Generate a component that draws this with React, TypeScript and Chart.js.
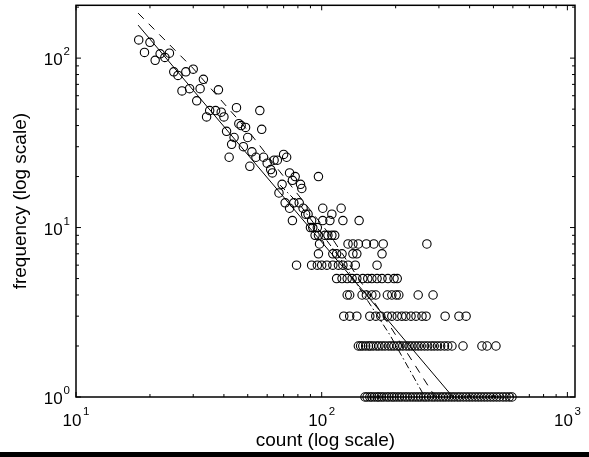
import React, { useEffect, useRef } from 'react';
import { Chart, registerables } from 'chart.js';

Chart.register(...registerables);

// ---- Data (count vs. frequency, log-log) ----
// Upper part of the distribution: one point per count value
const upperCounts = [18, 20, 19, 21, 22, 23, 24, 25, 26, 28, 30, 33, 27, 29, 32, 38, 31, 34, 35, 37, 39, 40, 45, 56, 46, 47, 49, 50, 57, 41, 44, 43, 48, 52, 54, 58, 42, 51, 60, 62, 63, 64, 66, 70, 72, 74, 78, 97, 69, 76, 82, 83, 67];
const upperFreqs = [128, 124, 108, 97, 106, 101, 107, 83, 79, 83, 86, 75, 64, 66, 66, 65, 56, 45, 49, 49, 48, 45, 51, 49, 41, 40, 39, 34, 38, 37, 34, 31, 30, 28, 26, 26, 26, 23, 24, 22, 21, 25, 25, 27, 26, 21, 20, 20, 18, 19, 18, 17, 16];

// Lower part: counts sharing the same (integer) frequency
const countsFreq14 = [71, 77, 81];
const countsFreq13 = [74, 84, 101, 120];
const countsFreq12 = [86, 88, 110];
const countsFreq11 = [76, 91, 101, 108, 122, 142];
const countsFreq10 = [90, 92, 96];
const countsFreq9 = [94, 97, 103, 106, 110, 113];
const countsFreq8 = [98, 128, 134, 141, 152, 163, 178, 268];
const countsFreq7 = [97, 111, 115, 121, 134, 139, 176];
const countsFreq6 = [79, 91, 96, 100, 105, 111, 117, 122, 128, 137, 168];
const countsFreq5 = [115, 121, 127, 133, 139, 147, 154, 160, 168, 176, 186, 197, 203];
const countsFreq4 = [127, 130, 146, 152, 160, 166, 185, 193, 201, 206, 247, 284];
const countsFreq3 = [123, 130, 139, 157, 166, 174, 185, 193, 203, 212, 220, 231, 242, 256, 266, 318, 362, 387];
const countsFreq2 = [141, 144, 147, 151, 155, 158, 162, 167, 171, 176, 181, 187, 192, 197, 203, 208, 214, 221, 227, 233, 240, 247, 254, 262, 270, 279, 287, 296, 305, 316, 326, 339, 376, 449, 471, 512];
const countsFreq1 = [150, 153, 157, 160, 164, 168, 171, 175, 179, 184, 188, 193, 197, 202, 207, 212, 218, 223, 229, 235, 241, 247, 253, 260, 266, 273, 281, 288, 296, 304, 312, 320, 329, 338, 347, 357, 366, 377, 388, 399, 410, 422, 434, 446, 459, 472, 486, 500, 515, 530, 547, 563, 580, 595];

const rowFreqs = [14, 13, 12, 11, 10, 9, 8, 7, 6, 5, 4, 3, 2, 1];
const rowCounts = [countsFreq14, countsFreq13, countsFreq12, countsFreq11, countsFreq10, countsFreq9, countsFreq8, countsFreq7, countsFreq6, countsFreq5, countsFreq4, countsFreq3, countsFreq2, countsFreq1];

// Fitted lines
const solidLineCounts = [17.9, 342];
const solidLineFreqs = [156.6, 1];
const dashedLineCounts = [17.9, 29.9, 51.1, 67.7, 108.1, 189.7, 290];
const dashedLineFreqs = [184.3, 87.3, 36.1, 21.3, 9.03, 2.62, 1];
const dashDotLineCounts = [67.7, 81.6, 118.7, 189.7, 263];
const dashDotLineFreqs = [17.8, 13.6, 6.61, 2.32, 1];

// Axes
const X_MIN = 10;
const X_MAX = 1074;
const Y_MIN = 1;
const Y_MAX = 205;
const xMajorTicks = [10, 100, 1000];
const xMajorExps = ['1', '2', '3'];
const xMinorTicks = [20, 30, 40, 50, 60, 70, 80, 90, 200, 300, 400, 500, 600, 700, 800, 900];
const yMajorTicks = [1, 10, 100];
const yMajorExps = ['0', '1', '2'];
const yMinorTicks = [2, 3, 4, 5, 6, 7, 8, 9, 20, 30, 40, 50, 60, 70, 80, 90, 200];
const xTitle = 'count (log scale)';
const yTitle = 'frequency (log scale)';

const FONT = '"Liberation Sans", Arial, Helvetica, sans-serif';

const axesPlugin = {
  id: 'matlabAxes',
  afterDraw(chart: any) {
    const { ctx, chartArea: a, scales } = chart;
    const xs = scales.x;
    const ys = scales.y;
    ctx.save();
    ctx.strokeStyle = '#000';
    ctx.fillStyle = '#000';
    ctx.lineWidth = 1;
    ctx.beginPath();
    const xt = (v: number, len: number) => {
      const p = xs.getPixelForValue(v);
      ctx.moveTo(p, a.bottom);
      ctx.lineTo(p, a.bottom - len);
      ctx.moveTo(p, a.top);
      ctx.lineTo(p, a.top + len);
    };
    const yt = (v: number, len: number) => {
      const p = ys.getPixelForValue(v);
      ctx.moveTo(a.left, p);
      ctx.lineTo(a.left + len, p);
      ctx.moveTo(a.right, p);
      ctx.lineTo(a.right - len, p);
    };
    xMajorTicks.forEach((v) => xt(v, 5));
    xMinorTicks.forEach((v) => xt(v, 3));
    yMajorTicks.forEach((v) => yt(v, 5));
    yMinorTicks.forEach((v) => yt(v, 3));
    ctx.stroke();

    ctx.lineWidth = 1.5;
    ctx.strokeRect(a.left, a.top, a.right - a.left, a.bottom - a.top);

    const baseFont = '17px ' + FONT;
    const supFont = '11.5px ' + FONT;
    ctx.textBaseline = 'alphabetic';
    ctx.textAlign = 'left';
    xMajorTicks.forEach((v, i) => {
      const p = xs.getPixelForValue(v);
      ctx.font = baseFont;
      const w1 = ctx.measureText('10').width;
      ctx.font = supFont;
      const w2 = ctx.measureText(xMajorExps[i]).width;
      const start = p - (w1 + 1.5 + w2) / 2;
      ctx.font = baseFont;
      ctx.fillText('10', start, a.bottom + 29);
      ctx.font = supFont;
      ctx.fillText(xMajorExps[i], start + w1 + 1.5, a.bottom + 17.5);
    });
    yMajorTicks.forEach((v, i) => {
      const p = ys.getPixelForValue(v);
      ctx.font = baseFont;
      const w1 = ctx.measureText('10').width;
      ctx.font = supFont;
      const w2 = ctx.measureText(yMajorExps[i]).width;
      const start = a.left - 6 - (w1 + 1 + w2);
      ctx.font = baseFont;
      ctx.fillText('10', start, p + 7);
      ctx.font = supFont;
      ctx.fillText(yMajorExps[i], start + w1 + 1, p - 3);
    });

    ctx.font = '19px ' + FONT;
    ctx.textAlign = 'center';
    ctx.fillText(xTitle, (a.left + a.right) / 2, 446);
    ctx.translate(26, (a.top + a.bottom) / 2);
    ctx.rotate(-Math.PI / 2);
    ctx.fillText(yTitle, 0, 0);
    ctx.restore();
  },
};

export default function App() {
  const canvasRef = useRef<HTMLCanvasElement | null>(null);

  useEffect(() => {
    if (!canvasRef.current) return;
    const points: { x: number; y: number }[] = [];
    upperCounts.forEach((c, i) => points.push({ x: c, y: upperFreqs[i] }));
    rowCounts.forEach((arr, r) => arr.forEach((c) => points.push({ x: c, y: rowFreqs[r] })));
    const toXY = (xs: number[], ys: number[]) => xs.map((x, i) => ({ x, y: ys[i] }));

    const chart = new Chart(canvasRef.current, {
      type: 'scatter',
      data: {
        datasets: [
          {
            label: 'data',
            data: points,
            showLine: false,
            pointStyle: 'circle',
            pointRadius: 4.2,
            pointBorderWidth: 1.1,
            borderColor: '#000',
            backgroundColor: 'rgba(0,0,0,0)',
            pointBackgroundColor: 'rgba(0,0,0,0)',
            pointBorderColor: '#000',
            clip: false,
          } as any,
          {
            label: 'fit',
            data: toXY(solidLineCounts, solidLineFreqs),
            showLine: true,
            pointRadius: 0,
            borderColor: '#000',
            borderWidth: 1,
          } as any,
          {
            label: 'fit2',
            data: toXY(dashedLineCounts, dashedLineFreqs),
            showLine: true,
            pointRadius: 0,
            borderColor: '#000',
            borderWidth: 1,
            borderDash: [8, 7],
          } as any,
          {
            label: 'fit3',
            data: toXY(dashDotLineCounts, dashDotLineFreqs),
            showLine: true,
            pointRadius: 0,
            borderColor: '#000',
            borderWidth: 1,
            borderDash: [7, 3, 1.5, 3],
          } as any,
        ],
      },
      options: {
        animation: false,
        responsive: false,
        devicePixelRatio: 1,
        events: [],
        layout: { padding: { left: 76, right: 14, top: 5, bottom: 60 } },
        scales: {
          x: { type: 'logarithmic', min: X_MIN, max: X_MAX, display: false },
          y: { type: 'logarithmic', min: Y_MIN, max: Y_MAX, display: false },
        },
        plugins: {
          legend: { display: false },
          tooltip: { enabled: false },
        },
      },
      plugins: [axesPlugin],
    });
    return () => chart.destroy();
  }, []);

  return (
    <div style={{ position: 'fixed', left: 0, top: 0, width: 589, height: 457, background: '#fff', overflow: 'hidden' }}>
      <canvas ref={canvasRef} width={589} height={457} style={{ display: 'block' }} />
      <div style={{ position: 'absolute', left: 0, top: 452, width: 589, height: 5, background: '#000' }} />
    </div>
  );
}
